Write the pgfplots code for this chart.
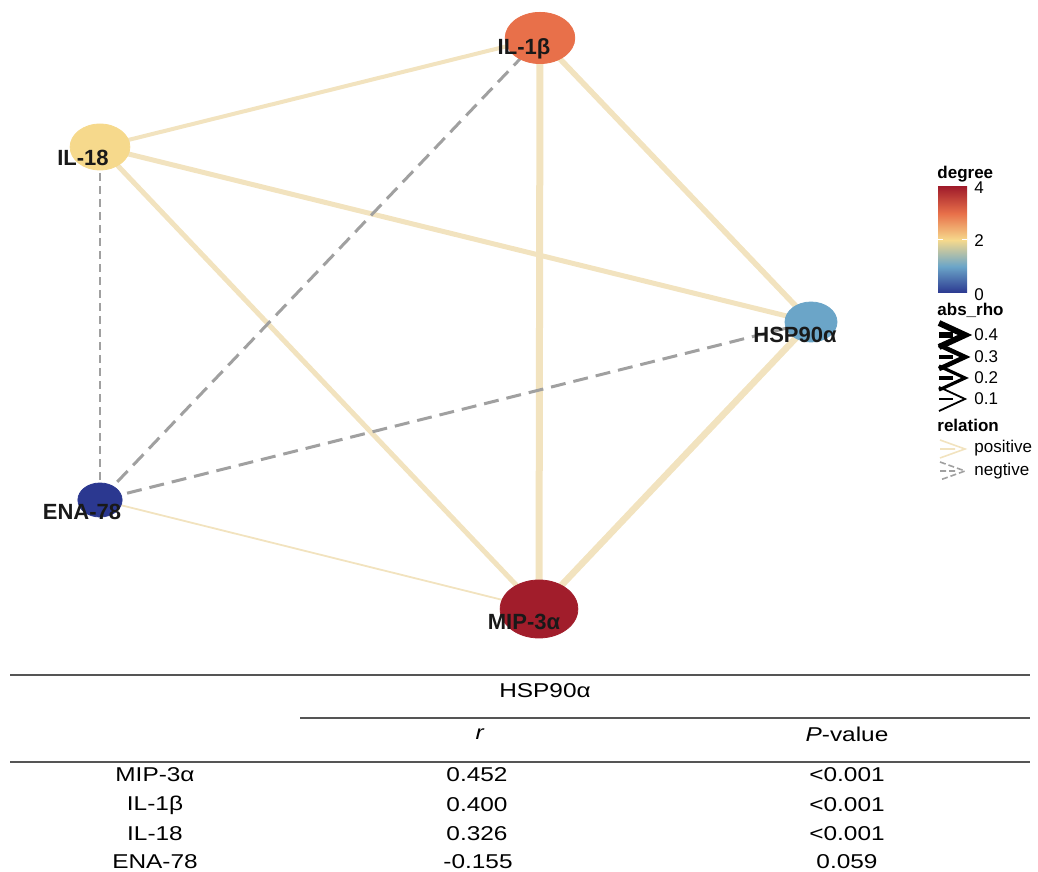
\documentclass[border=0pt]{standalone}
\usepackage{pgfplots}
\pgfplotsset{compat=1.18}
\usepackage{fontspec}
\setmainfont{Liberation Sans}
\newfontfamily\tabfont[FakeStretch=1.22]{Liberation Sans}

\definecolor{poscol}{HTML}{F2E3BF}
\definecolor{negcol}{HTML}{A0A0A0}
\definecolor{deg0}{HTML}{2B3890}
\definecolor{deg1}{HTML}{6BA5C8}
\definecolor{deg2}{HTML}{F6D98C}
\definecolor{deg3}{HTML}{E8704A}
\definecolor{deg4}{HTML}{A11D2B}
\definecolor{rulecol}{HTML}{555555}

% degree colour scale (RdYlBu, reversed)
\pgfdeclareverticalshading{degreebar}{100bp}{color(0bp)=(deg0); color(25bp)=(deg0);
  color(37.5bp)=(deg1); color(50bp)=(deg2); color(62.5bp)=(deg3);
  color(75bp)=(deg4); color(100bp)=(deg4)}

\newcommand{\edge}[5]{\addplot[#1] coordinates {(#2,#3) (#4,#5)};}
\newcommand{\vertex}[6]{\addplot[only marks, mark=*, color=#6, mark size=#4,
  mark options={xscale=#5}] coordinates {(#2,#3)};}
% edge-width key: chevron with a short stem
\newcommand{\rhokey}[2]{%
  \draw[line width=#2, line join=miter] (axis cs:939,#1+12) -- (axis cs:965,#1) -- (axis cs:939,#1-12);
  \draw[line width=#2] (axis cs:939,#1) -- (axis cs:953,#1);}

\begin{document}
\begin{tikzpicture}
\begin{axis}[set layers, scale only axis, width=519pt, height=435.5pt,
  xmin=0, xmax=1038, ymin=0, ymax=871, axis lines=none, clip=false]

% full canvas
\path (rel axis cs:0,0) rectangle (rel axis cs:1,1);

% positive correlations
\edge{poscol, line width=2pt}{100}{724}{540}{833}
\edge{poscol, line width=2.5pt}{100}{724}{811}{549}
\edge{poscol, line width=2.5pt}{100}{724}{539}{262}
\edge{poscol, line width=3.5pt}{540}{833}{539}{262}
\edge{poscol, line width=2.8pt}{540}{833}{811}{549}
\edge{poscol, line width=3.3pt}{811}{549}{539}{262}
\edge{poscol, line width=0.9pt}{100}{371}{539}{262}
% negative correlations
\edge{negcol, line width=0.9pt, dash pattern=on 4pt off 2.5pt}{100}{724}{100}{371}
\edge{negcol, line width=1.5pt, dash pattern=on 7.5pt off 4pt}{540}{833}{100}{371}
\edge{negcol, line width=1.5pt, dash pattern=on 7.5pt off 4pt}{811}{549}{100}{371}

% vertices coloured by degree
\vertex{}{540}{833}{12.8pt}{1.36}{deg3}
\vertex{}{100}{724}{11.5pt}{1.3}{deg2}
\vertex{}{100}{371}{8.5pt}{1.3}{deg0}
\vertex{}{539}{262}{14.5pt}{1.34}{deg4}
\vertex{}{811}{549}{10pt}{1.3}{deg1}

\begin{pgfonlayer}{axis foreground}
\begin{scope}[every node/.style={font=\bfseries\fontsize{11}{13}\selectfont, text=black!90}]
\node at (axis cs:524,822) {IL-1β};
\node at (axis cs:83,713) {IL-18};
\node at (axis cs:82,359) {ENA-78};
\node at (axis cs:524,249) {MIP-3α};
\node at (axis cs:795,536) {HSP90α};
\end{scope}
\end{pgfonlayer}

% legend: degree
\begin{scope}[every node/.style={font=\fontsize{8.5}{10}\selectfont, anchor=west, inner sep=0pt}]
\node[font=\bfseries\fontsize{8.5}{10}\selectfont] at (axis cs:937,697) {degree};
\shade[shading=degreebar] (axis cs:938,578) rectangle (axis cs:967,684);
\draw[white, line width=0.5pt] (axis cs:938,631) -- (axis cs:943,631)
  (axis cs:962,631) -- (axis cs:967,631);
\node at (axis cs:974,683) {4};
\node at (axis cs:974,630) {2};
\node at (axis cs:974,576) {0};

% legend: abs_rho
\node[font=\bfseries\fontsize{8.5}{10}\selectfont] at (axis cs:937,561) {abs\_rho};
\rhokey{536}{3pt}
\rhokey{514}{2.3pt}
\rhokey{493}{1.6pt}
\rhokey{472}{0.9pt}
\node at (axis cs:974,536) {0.4};
\node at (axis cs:974,514) {0.3};
\node at (axis cs:974,493) {0.2};
\node at (axis cs:974,472) {0.1};

% legend: relation
\node[font=\bfseries\fontsize{8.5}{10}\selectfont] at (axis cs:937,446) {relation};
\draw[poscol, line width=0.8pt] (axis cs:940,431) -- (axis cs:965,422) -- (axis cs:940,413)
  (axis cs:940,422) -- (axis cs:955,422);
\draw[negcol, line width=0.8pt, dash pattern=on 3pt off 1.5pt] (axis cs:940,409) -- (axis cs:965,400) -- (axis cs:940,391)
  (axis cs:940,400) -- (axis cs:955,400);
\node at (axis cs:974,423) {positive};
\node at (axis cs:974,400) {negtive};
\end{scope}

% correlation table
\draw[rulecol, line width=0.75pt] (axis cs:10,196) -- (axis cs:1030,196);
\draw[rulecol, line width=0.75pt] (axis cs:300,153) -- (axis cs:1030,153);
\draw[rulecol, line width=0.75pt] (axis cs:10,109) -- (axis cs:1030,109);
\begin{scope}[every node/.style={font=\tabfont\fontsize{10}{12}\selectfont, inner sep=1pt}]
\node at (axis cs:545,180) {HSP90α};
\node at (axis cs:480,137) {\textit{r}};
\node at (axis cs:847,137) {\textit{P}-value};
\node at (axis cs:155,96) {MIP-3α};
\node at (axis cs:477,96) {0.452};
\node at (axis cs:847,96) {<0.001};
\node at (axis cs:155,66) {IL-1β};
\node at (axis cs:477,66) {0.400};
\node at (axis cs:847,66) {<0.001};
\node at (axis cs:155,37) {IL-18};
\node at (axis cs:477,37) {0.326};
\node at (axis cs:847,37) {<0.001};
\node at (axis cs:155,9) {ENA-78};
\node at (axis cs:478,9) {-0.155};
\node at (axis cs:847,9) {0.059};
\end{scope}
\end{axis}
\end{tikzpicture}
\end{document}
